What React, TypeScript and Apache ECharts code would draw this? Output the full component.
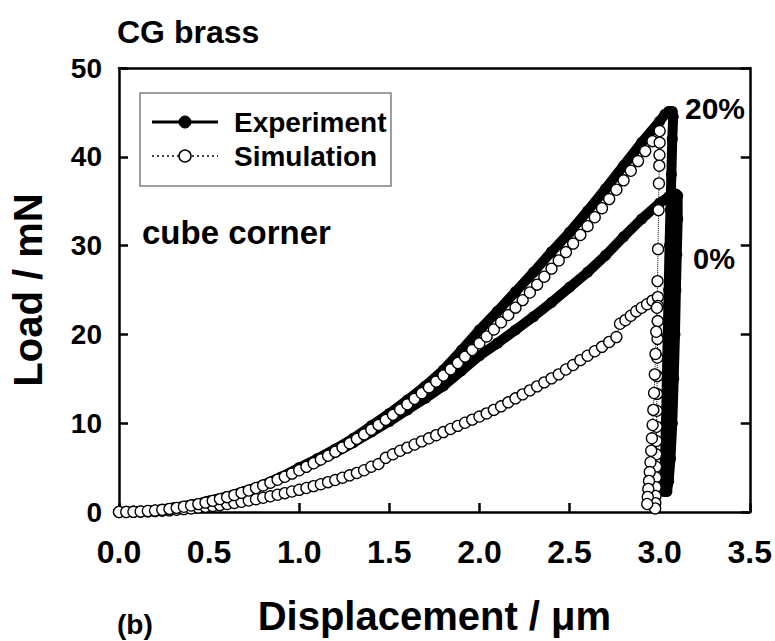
import React, { useEffect, useRef } from "react";
import * as echarts from "echarts";

const FONT = '"Liberation Sans", Arial, Helvetica, sans-serif';

// ---- Experiment, 20% pre-strain (loading + unloading) ----
const exp20X = [
  0, 0.1, 0.2, 0.3, 0.4, 0.5, 0.6, 0.7, 0.8, 0.9, 1.0, 1.1, 1.2, 1.3, 1.4, 1.5,
  1.6, 1.7, 1.8, 1.9, 2.0, 2.1, 2.2, 2.3, 2.4, 2.5, 2.6, 2.7, 2.8, 2.9, 3.0,
  3.03, 3.05, 3.07, 3.075, 3.07, 3.065, 3.06, 3.055, 3.05, 3.045, 3.04, 3.035,
  3.03, 3.025, 3.025,
];
const exp20Y = [
  0, 0.05, 0.2, 0.45, 0.8, 1.25, 1.75, 2.35, 3.05, 3.95, 5.0, 6.0, 7.1, 8.3, 9.7,
  11.1, 12.6, 14.2, 16.0, 18.2, 20.5, 22.6, 24.8, 27.0, 29.3, 31.5, 33.9, 36.4,
  39.0, 41.6, 44.0, 44.8, 45.1, 45.1, 44.5, 42.0, 38.0, 34.0, 30.0, 25.0, 20.0,
  15.0, 10.0, 6.0, 3.5, 2.3,
];

// ---- Experiment, 0% pre-strain ----
const exp0X = [
  0, 0.1, 0.2, 0.3, 0.4, 0.5, 0.6, 0.7, 0.8, 0.9, 1.0, 1.1, 1.2, 1.3, 1.4, 1.5,
  1.6, 1.7, 1.8, 1.9, 2.0, 2.1, 2.2, 2.3, 2.4, 2.5, 2.6, 2.7, 2.8, 2.9, 3.0,
  3.05, 3.09, 3.1, 3.1, 3.095, 3.09, 3.085, 3.078, 3.07, 3.06, 3.05, 3.04,
];
const exp0Y = [
  0, 0.05, 0.2, 0.45, 0.8, 1.2, 1.7, 2.3, 3.0, 3.85, 4.8, 5.7, 6.7, 7.8, 9.0,
  10.2, 11.5, 12.8, 14.2, 15.9, 17.6, 19.0, 20.5, 22.0, 23.6, 25.3, 27.0, 28.9,
  31.0, 33.0, 34.8, 35.5, 35.8, 35.6, 33.0, 29.0, 25.0, 20.0, 15.0, 10.0, 6.0,
  3.5, 2.3,
];

// ---- Simulation, 20% pre-strain ----
const sim20X = [
  0, 0.04, 0.08, 0.12, 0.16, 0.2, 0.24, 0.28, 0.32, 0.36, 0.4, 0.44, 0.48, 0.52,
  0.56, 0.6, 0.64, 0.68, 0.72, 0.76, 0.8, 0.84, 0.88, 0.92, 0.96, 1.0, 1.04, 1.08,
  1.12, 1.16, 1.2, 1.24, 1.28, 1.32, 1.36, 1.4, 1.44, 1.48, 1.52, 1.56, 1.6, 1.64,
  1.68, 1.72, 1.76, 1.8, 1.84, 1.88, 1.92, 1.96, 2.0, 2.04, 2.08, 2.12, 2.16, 2.2,
  2.24, 2.28, 2.32, 2.36, 2.4, 2.44, 2.48, 2.52, 2.56, 2.6, 2.64, 2.68, 2.72, 2.76,
  2.8, 2.84, 2.88, 2.92, 2.96, 3.0,
  3.0, 2.999, 2.998, 2.996, 2.994, 2.991, 2.988, 2.985, 2.981, 2.977, 2.973,
  2.969, 2.965, 2.961, 2.957, 2.953, 2.949, 2.945, 2.941, 2.937, 2.934, 2.931,
];
const sim20Y = [
  0, 0, 0.02, 0.06, 0.11, 0.17, 0.25, 0.35, 0.46, 0.59, 0.73, 0.89, 1.06, 1.25,
  1.45, 1.67, 1.9, 2.15, 2.42, 2.7, 2.99, 3.3, 3.63, 3.97, 4.33, 4.7, 5.09, 5.49,
  5.91, 6.34, 6.79, 7.26, 7.74, 8.23, 8.74, 9.27, 9.81, 10.37, 10.94, 11.53,
  12.13, 12.75, 13.38, 14.03, 14.69, 15.37, 16.07, 16.78, 17.5, 18.24, 19.0,
  19.77, 20.56, 21.36, 22.18, 23.01, 23.86, 24.72, 25.6, 26.5, 27.41, 28.33,
  29.27, 30.23, 31.2, 32.19, 33.19, 34.21, 35.24, 36.29, 37.35, 38.43, 39.52,
  40.64, 41.76, 42.9,
  41.6, 40.2, 39.0, 37.0, 34.0, 29.6, 26.0, 23.0, 20.3, 17.8, 15.5, 13.4, 11.5,
  9.8, 8.3, 6.9, 5.6, 4.5, 3.5, 2.6, 1.7, 0.9,
];

// ---- Simulation, 0% pre-strain ----
const sim0X = [
  0, 0.04, 0.08, 0.12, 0.16, 0.2, 0.24, 0.28, 0.32, 0.36, 0.4, 0.44, 0.48, 0.52,
  0.56, 0.6, 0.64, 0.68, 0.72, 0.76, 0.8, 0.84, 0.88, 0.92, 0.96, 1.0, 1.04, 1.08,
  1.12, 1.16, 1.2, 1.24, 1.28, 1.32, 1.36, 1.4, 1.44, 1.48, 1.52, 1.56, 1.6, 1.64,
  1.68, 1.72, 1.76, 1.8, 1.84, 1.88, 1.92, 1.96, 2.0, 2.04, 2.08, 2.12, 2.16, 2.2,
  2.24, 2.28, 2.32, 2.36, 2.4, 2.44, 2.48, 2.52, 2.56, 2.6, 2.64, 2.68, 2.72, 2.76,
  2.78, 2.81, 2.84, 2.87, 2.9, 2.93, 2.96, 2.99,
  2.99, 2.989, 2.988, 2.987, 2.986, 2.985, 2.984, 2.983, 2.982, 2.981, 2.98,
  2.979, 2.978, 2.977, 2.976, 2.975,
];
const sim0Y = [
  0, 0, 0.02, 0.04, 0.07, 0.1, 0.14, 0.19, 0.25, 0.32, 0.4, 0.49, 0.58, 0.68,
  0.78, 0.9, 1.02, 1.15, 1.29, 1.44, 1.6, 1.77, 1.94, 2.12, 2.31, 2.5, 2.7, 2.91,
  3.13, 3.36, 3.6, 3.86, 4.13, 4.4, 4.7, 5.1, 5.4, 6.1, 6.5, 6.9, 7.25, 7.6,
  7.95, 8.3, 8.65, 9.0, 9.35, 9.7, 10.05, 10.4, 10.75, 11.1, 11.5, 11.9, 12.35,
  12.8, 13.25, 13.7, 14.15, 14.6, 15.05, 15.5, 16.05, 16.55, 17.1, 17.6, 18.1,
  18.6, 19.15, 19.7,
  21.2, 21.6, 22.1, 22.6, 23.0, 23.4, 23.8, 24.2,
  23.2, 21.5, 19.5, 17.4, 15.3, 13.3, 11.4, 9.6, 8.0, 6.5, 5.1, 3.9, 2.8, 1.8,
  1.0, 0.4,
];

const xTickValues = [0, 0.5, 1.0, 1.5, 2.0, 2.5, 3.0, 3.5];
const yTickValues = [0, 10, 20, 30, 40, 50];
const legendNames = ["Experiment", "Simulation"];
const curveLabels = ["20%", "0%"];

const zip = (xs: number[], ys: number[]) => xs.map((x, i) => [x, ys[i]]);

const GRID = { left: 118, top: 68, width: 633, height: 455 };

const txt = (text: string, x: number, y: number, size: number, z = 5) => ({
  type: "text",
  x,
  y,
  z,
  style: {
    text,
    font: `bold ${size}px ${FONT}`,
    fill: "#000",
    textAlign: "left",
    textVerticalAlign: "middle",
    align: "left",
    verticalAlign: "middle",
  },
});

export default function App() {
  const ref = useRef<HTMLDivElement>(null);

  useEffect(() => {
    if (!ref.current) return;
    const chart = echarts.init(ref.current, undefined, { renderer: "svg" });

    const expSeries = (data: number[][]) => ({
      type: "line",
      name: legendNames[0],
      data,
      symbol: "circle",
      symbolSize: 11,
      showSymbol: true,
      silent: true,
      itemStyle: { color: "#000" },
      lineStyle: { color: "#000", width: 10, cap: "round", join: "round" },
      z: 2,
    });
    const simSeries = (data: number[][]) => ({
      type: "line",
      name: legendNames[1],
      data,
      symbol: "circle",
      symbolSize: 11,
      showSymbol: true,
      silent: true,
      itemStyle: { color: "#fff", borderColor: "#000", borderWidth: 1.3 },
      lineStyle: { color: "#000", width: 1, type: "dotted" },
      z: 3,
    });

    const lineS = { color: "#000", width: 2.5 };
    const nameFont = { fontFamily: FONT, fontWeight: "bold", fontSize: 40, color: "#000" };

    const legX = 140, legY = 93, legW = 251, legH = 93;

    chart.setOption({
      animation: false,
      backgroundColor: "#fff",
      grid: { ...GRID, show: false },
      xAxis: [
        {
          type: "value",
          min: 0,
          max: 3.5,
          interval: 0.5,
          position: "bottom",
          name: "Displacement / μm",
          nameLocation: "middle",
          nameGap: 84,
          nameTextStyle: nameFont,
          axisLine: { show: true, onZero: false, lineStyle: lineS },
          axisTick: { show: true, inside: true, length: 9, lineStyle: lineS },
          axisLabel: {
            fontFamily: FONT,
            fontWeight: "bold",
            fontSize: 32,
            color: "#000",
            margin: 24,
            formatter: (v: number) => (xTickValues.includes(v) ? v.toFixed(1) : ""),
          },
          splitLine: { show: false },
        },
        {
          type: "value",
          min: 0,
          max: 3.5,
          interval: 0.5,
          position: "top",
          axisLine: { show: true, onZero: false, lineStyle: lineS },
          axisTick: { show: false },
          axisLabel: { show: false },
          splitLine: { show: false },
        },
      ],
      yAxis: [
        {
          type: "value",
          min: 0,
          max: 50,
          interval: 10,
          position: "left",
          name: "Load / mN",
          nameLocation: "middle",
          nameGap: 71,
          nameTextStyle: nameFont,
          axisLine: { show: true, onZero: false, lineStyle: lineS },
          axisTick: { show: true, inside: true, length: 9, lineStyle: lineS },
          axisLabel: {
            fontFamily: FONT,
            fontWeight: "bold",
            fontSize: 28,
            color: "#000",
            margin: 17,
            formatter: (v: number) => (yTickValues.includes(v) ? String(v) : ""),
          },
          splitLine: { show: false },
        },
        {
          type: "value",
          min: 0,
          max: 50,
          interval: 10,
          position: "right",
          axisLine: { show: true, onZero: false, lineStyle: lineS },
          axisTick: { show: true, inside: true, length: 9, lineStyle: lineS },
          axisLabel: { show: false },
          splitLine: { show: false },
        },
      ],
      series: [
        expSeries(zip(exp0X, exp0Y)),
        expSeries(zip(exp20X, exp20Y)),
        simSeries(zip(sim0X, sim0Y)),
        simSeries(zip(sim20X, sim20Y)),
      ],
      graphic: [
        txt("CG brass", 117, 32, 32),
        txt("cube corner", 142, 232, 33),
        txt(curveLabels[0], 685, 108, 30),
        txt(curveLabels[1], 693, 259, 29),
        txt("(b)", 117, 624, 28),
        // legend box
        {
          type: "rect",
          shape: { x: legX, y: legY, width: legW, height: legH },
          style: { fill: "#fff", stroke: "#808080", lineWidth: 1.5 },
          z: 10,
        },
        {
          type: "line",
          shape: { x1: 152, y1: 122, x2: 218, y2: 122 },
          style: { stroke: "#000", lineWidth: 3 },
          z: 11,
        },
        {
          type: "circle",
          shape: { cx: 185, cy: 122, r: 6 },
          style: { fill: "#000", stroke: "#000", lineWidth: 1 },
          z: 12,
        },
        {
          type: "line",
          shape: { x1: 152, y1: 156, x2: 218, y2: 156 },
          style: { stroke: "#000", lineWidth: 1.5, lineDash: [2, 3] },
          z: 11,
        },
        {
          type: "circle",
          shape: { cx: 185, cy: 156, r: 6 },
          style: { fill: "#fff", stroke: "#000", lineWidth: 1.5 },
          z: 12,
        },
        txt(legendNames[0], 234, 122, 28, 12),
        txt(legendNames[1], 234, 156, 28, 12),
      ],
    });

    return () => chart.dispose();
  }, []);

  return (
    <div
      ref={ref}
      style={{ position: "fixed", left: 0, top: 0, width: 775, height: 641, background: "#fff" }}
    />
  );
}
